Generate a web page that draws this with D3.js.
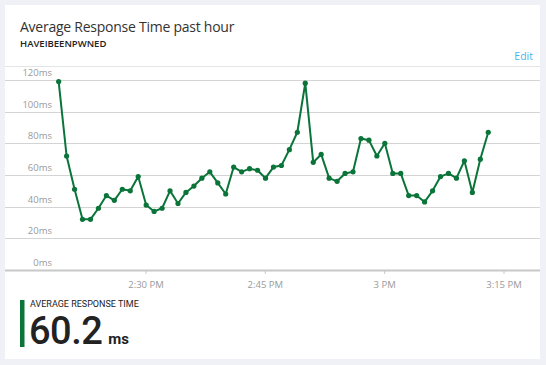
<!DOCTYPE html>
<html><head><meta charset="utf-8">
<script src="https://cdn.jsdelivr.net/npm/d3@7"></script>
<style>
html,body{margin:0;padding:0;background:#eff1f6;}
svg{display:block;font-family:"Open Sans","Noto Sans",sans-serif;}
</style></head>
<body>
<svg id="c" width="546" height="365"></svg>
<script>
const title = "Average Response Time past hour";
const subtitle = "HAVEIBEENPWNED";
const metricLabel = "AVERAGE RESPONSE TIME";
const metricValue = "60.2";
const metricUnit = "ms";
const startTime = "2020-01-01T14:19:05";
const values = [119,72,51,32,32,39,47,44,51,50,59,41,37,39,50,42,49,53,58,62,55,48,65,62,64,63,58,65,66,76,87,118,68,73,58,56,61,62,83,82,72,80,61,61,47,47,43,50,59,61,58,69,49,70,87];
const yTicks = [0,20,40,60,80,100,120];
const xTickTimes = ["2020-01-01T14:30:00","2020-01-01T14:45:00","2020-01-01T15:00:00","2020-01-01T15:15:00"];
const xTickLabels = ["2:30 PM","2:45 PM","3 PM","3:15 PM"];

const svg = d3.select("#c");
const green = "#0a7439";
const cardL = 5, cardR = 540, cardT = 5, cardB = 359;

svg.append("rect").attr("x",cardL).attr("y",cardT).attr("width",cardR-cardL).attr("height",cardB-cardT).attr("fill","#fff");

svg.append("text").attr("x",20).attr("y",32).attr("font-size",14).attr("letter-spacing",-0.25).attr("fill","#333").text(title);
svg.append("text").attr("x",20).attr("y",47).attr("font-size",9.5).attr("font-weight",600).attr("fill","#222").text(subtitle);
svg.append("text").attr("x",533).attr("y",60).attr("text-anchor","end").attr("font-size",10.5).attr("fill","#45b5ee").text("Edit");
svg.append("line").attr("x1",cardL).attr("x2",cardR).attr("y1",66.5).attr("y2",66.5).attr("stroke","#e4e4e4");

const t0 = new Date(startTime);
const times = values.map((v,i)=> d3.timeMinute.offset(t0, i));
const data = values.map((v,i)=>({t:times[i], v}));

const x = d3.scaleTime().domain([new Date(xTickTimes[0]), new Date(xTickTimes[3])]).range([145.5, 503.5]);
const y = d3.scaleLinear().domain([0,120]).range([270,80]);

// gridlines
const g = svg.append("g");
g.selectAll("line.grid").data(yTicks.filter(d=>d>0)).join("line")
  .attr("x1",cardL).attr("x2",cardR)
  .attr("y1",d=>Math.round(y(d))+0.5).attr("y2",d=>Math.round(y(d))+0.5)
  .attr("stroke","#d4d4d4");
g.selectAll("text.yl").data(yTicks).join("text")
  .attr("x",52).attr("y",d=>y(d)-4).attr("text-anchor","end")
  .attr("font-size",9.5).attr("fill","#9a9a9a").text(d=>d+"ms");

// x axis
const xAxis = d3.axisBottom(x).tickValues(xTickTimes.map(s=>new Date(s)))
  .tickFormat((d,i)=>xTickLabels[i]).tickSize(4).tickPadding(7);
const ax = svg.append("g").attr("transform","translate(0,270)").call(xAxis);
ax.select(".domain").remove();
ax.selectAll(".tick line").attr("stroke","#c8c8c8");
ax.selectAll(".tick text").attr("fill","#9a9a9a").attr("font-size",9.5).attr("font-family","'Open Sans','Noto Sans',sans-serif");
svg.append("line").attr("x1",cardL).attr("x2",cardR).attr("y1",270.5).attr("y2",270.5).attr("stroke","#c8c8c8").attr("stroke-width",2);

// line
const line = d3.line().x(d=>x(d.t)).y(d=>y(d.v));
svg.append("path").datum(data).attr("d",line).attr("fill","none").attr("stroke",green).attr("stroke-width",2).attr("stroke-linejoin","round");
svg.selectAll("circle.pt").data(data).join("circle")
  .attr("cx",d=>x(d.t)).attr("cy",d=>y(d.v)).attr("r",2.6).attr("fill",green);

// metric
svg.append("rect").attr("x",20).attr("y",300).attr("width",4.5).attr("height",47).attr("fill",green);
svg.append("text").attr("x",30).attr("y",306.5).attr("font-size",9).attr("font-family","Roboto,sans-serif").attr("fill","#222").text(metricLabel);
const mv = svg.append("text").attr("x",29).attr("y",344).attr("fill","#222").attr("font-family","Roboto,sans-serif");
mv.append("tspan").attr("font-size",38).attr("font-weight",500).attr("letter-spacing",-0.5).text(metricValue);
mv.append("tspan").attr("dx",6).attr("font-size",15).attr("font-weight",700).text(metricUnit);
</script>
</body></html>
